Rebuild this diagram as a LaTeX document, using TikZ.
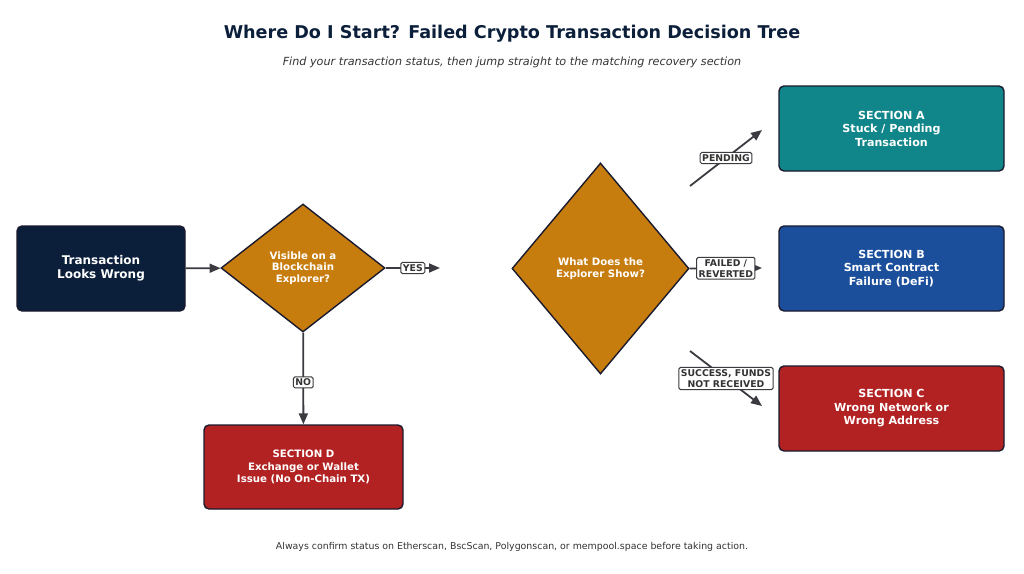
\documentclass[tikz,border=0pt]{standalone}
\usepackage{fontspec}
\setmainfont{DejaVu Sans}
\usetikzlibrary{arrows.meta,shapes.geometric}
\definecolor{navy}{HTML}{0B1F3A}
\definecolor{ochre}{HTML}{C77C0E}
\definecolor{tealc}{HTML}{10868A}
\definecolor{bluec}{HTML}{1B4F9C}
\definecolor{redc}{HTML}{B22222}
\definecolor{edgec}{HTML}{1A1A2E}
\definecolor{arrc}{HTML}{3A3A40}
\definecolor{txtgray}{HTML}{333333}
\tikzset{
  box/.style={draw=edgec, line width=1.4pt, rounded corners=5pt, text=white, align=center, inner sep=0pt},
  dia/.style={diamond, draw=edgec, line width=1.4pt, fill=ochre, text=white, align=center, inner sep=0pt,
     font=\bfseries\fontsize{10.2}{11.5}\selectfont},
  arr/.style={draw=arrc, line width=1.8pt, -{Triangle[length=11pt,width=9pt]}},
  lbl/.style={fill=white, draw=arrc, line width=1pt, rounded corners=1.5pt, inner sep=2pt, text=txtgray,
     align=center, font=\bfseries\fontsize{9.3}{11}\selectfont}
}
\begin{document}
\begin{tikzpicture}[x=1pt,y=-1pt]
\useasboundingbox (0,0) rectangle (1024,573);
\node[font=\bfseries\fontsize{17.6}{20}\selectfont, text=navy] (title) at (512,33.5) {Where Do I Start? Failed Crypto Transaction Decision Tree};
\node[font=\itshape\fontsize{11.2}{13}\selectfont, text=txtgray] (sub) at (512,62) {Find your transaction status, then jump straight to the matching recovery section};
\node[font=\fontsize{9.4}{11}\selectfont, text=txtgray] (foot) at (512,547) {Always confirm status on Etherscan, BscScan, Polygonscan, or mempool.space before taking action.};

\node[box, fill=navy, minimum width=168pt, minimum height=85pt, font=\bfseries\fontsize{12}{14}\selectfont] (start) at (101,268.5) {Transaction\\Looks Wrong};
\node[dia, minimum width=164pt, minimum height=128pt] (d1) at (303,268) {Visible on a\\Blockchain\\Explorer?};
\node[dia, minimum width=177pt, minimum height=211pt] (d2) at (600.5,268.5) {What Does the\\Explorer Show?};

\node[box, fill=tealc, minimum width=225pt, minimum height=85pt, font=\bfseries\fontsize{11.1}{13.5}\selectfont] (secA) at (891.5,128.5) {SECTION A\\Stuck / Pending\\Transaction};
\node[box, fill=bluec, minimum width=225pt, minimum height=85pt, font=\bfseries\fontsize{11.1}{13.5}\selectfont] (secB) at (891.5,268.5) {SECTION B\\Smart Contract\\Failure (DeFi)};
\node[box, fill=redc, minimum width=225pt, minimum height=85pt, font=\bfseries\fontsize{11.1}{13.5}\selectfont] (secC) at (891.5,408.5) {SECTION C\\Wrong Network or\\Wrong Address};
\node[box, fill=redc, minimum width=199pt, minimum height=84pt, font=\bfseries\fontsize{10.2}{12.5}\selectfont] (secD) at (303.5,467) {SECTION D\\Exchange or Wallet\\Issue (No On-Chain TX)};

\coordinate (yesend) at (440,268);
\coordinate (p1) at (690,186);
\coordinate (p2) at (762,130);
\coordinate (f2) at (762,268);
\coordinate (s1) at (690,351);
\coordinate (s2) at (762,406);

\draw[arr] (start) -- (d1);
\draw[arr] (d1) -- (yesend) node[lbl, midway] {YES};
\draw[arr] (d1) -- (secD) node[lbl, midway, yshift=-4pt] {NO};
\draw[arr] (p1) -- (p2) node[lbl, midway] {PENDING};
\draw[arr] (d2.east) -- (f2) node[lbl, midway] {FAILED /\\REVERTED};
\draw[arr] (s1) -- (s2) node[lbl, midway] {SUCCESS, FUNDS\\NOT RECEIVED};
\end{tikzpicture}
\end{document}
